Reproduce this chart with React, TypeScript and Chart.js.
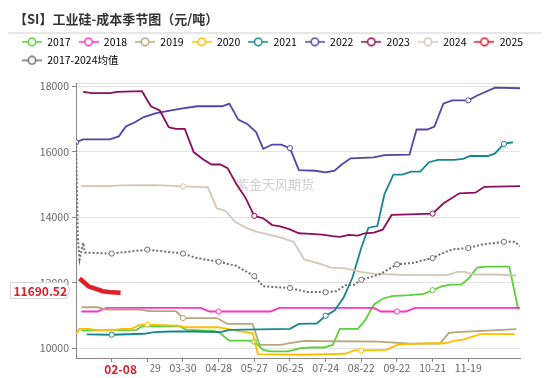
import React, { useEffect, useRef } from 'react';
import { Chart, registerables } from 'chart.js';

Chart.register(...registerables);

const FONT = "'Noto Sans CJK SC', 'Noto Sans', sans-serif";
const RED = '#dd1f26';

const titleText = '【SI】工业硅-成本季节图（元/吨）';
const watermarkText = '紫金天风期货';

// x axis: trading-day index within the year
const xTickDays = [20, 40, 60, 80, 100, 120, 140, 160, 180, 200, 220];
const xTickLabels = ['02-01', '02-29', '03-30', '04-28', '05-27', '06-25', '07-24', '08-22', '09-22', '10-21', '11-19'];
const yTickValues = [10000, 12000, 14000, 16000, 18000, 18100];

const latestDay = 25;
const latestLabel = '02-08';

const seriesNames = ['2017', '2018', '2019', '2020', '2021', '2022', '2023', '2024', '2025', '2017-2024均值'];
const seriesColors = ['#5ad13a', '#ff33c8', '#b9a67a', '#ffbf00', '#14868f', '#5244a8', '#8b0e5e', '#d4c7b8', RED, '#6e6e6e'];

const data2017: [number, number][] = [
  [3, 10540], [34, 10560], [37, 10670], [58, 10670], [62, 10560], [77, 10530], [80, 10490], [86, 10230],
  [96, 10230], [100, 10200], [105, 9950], [109, 9900], [119, 9900], [126, 10000], [132, 10020], [139, 10020],
  [144, 10100], [148, 10590], [158, 10590], [162, 10840], [167, 11330], [172, 11510], [177, 11590], [187, 11620],
  [195, 11660], [200, 11770], [205, 11890], [210, 11940], [216, 11940], [220, 12120], [225, 12460], [230, 12490],
  [243, 12490], [248, 11180],
];
const data2018: [number, number][] = [
  [3, 11120], [12, 11120], [17, 11230], [70, 11230], [75, 11120], [80, 11120], [109, 11120], [114, 11230],
  [167, 11230], [171, 11120], [180, 11120], [185, 11120], [190, 11230], [249, 11230],
];
const data2019: [number, number][] = [
  [3, 11250], [12, 11250], [17, 11180], [36, 11180], [41, 11130], [56, 11130], [60, 10920], [79, 10920],
  [85, 10740], [99, 10740], [103, 10100], [115, 10100], [119, 10150], [128, 10220], [170, 10200], [187, 10140],
  [204, 10140], [209, 10460], [213, 10490], [228, 10530], [247, 10580],
];
const data2020: [number, number][] = [
  [0, 10430], [2, 10590], [7, 10590], [12, 10550], [20, 10550], [26, 10590], [31, 10590], [36, 10720],
  [40, 10720], [57, 10690], [61, 10640], [79, 10640], [85, 10590], [90, 10530], [99, 10460], [102, 9820],
  [126, 9800], [151, 9830], [156, 9930], [160, 9930], [174, 9950], [180, 10100], [188, 10130], [198, 10150],
  [207, 10150], [212, 10220], [217, 10260], [227, 10430], [246, 10430],
];
const data2021: [number, number][] = [
  [6, 10420], [20, 10410], [38, 10440], [44, 10490], [53, 10510], [66, 10510], [81, 10490], [86, 10560],
  [120, 10590], [125, 10740], [131, 10750], [135, 10750], [140, 10990], [145, 11150], [150, 11540], [155, 12150],
  [160, 13070], [164, 13680], [169, 13730], [173, 14710], [178, 15300], [183, 15300], [188, 15390], [193, 15390],
  [198, 15680], [203, 15750], [212, 15750], [217, 15780], [221, 15870], [231, 15870], [235, 15950], [240, 16240],
  [245, 16290],
];
const data2022: [number, number][] = [
  [0, 16290], [4, 16380], [19, 16380], [24, 16470], [28, 16770], [33, 16900], [38, 17060], [45, 17180],
  [58, 17310], [68, 17390], [82, 17390], [86, 17470], [91, 16980], [96, 16850], [101, 16600], [105, 16090],
  [110, 16220], [115, 16220], [120, 16110], [125, 15440], [134, 15420], [140, 15370], [145, 15420], [149, 15610],
  [154, 15800], [167, 15830], [173, 15900], [187, 15910], [191, 16680], [197, 16680], [201, 16770], [206, 17470],
  [211, 17570], [220, 17570], [225, 17720], [235, 17960], [249, 17940],
];
const data2023: [number, number][] = [
  [4, 17830], [9, 17790], [19, 17790], [23, 17830], [37, 17850], [42, 17390], [47, 17260], [52, 16750],
  [56, 16700], [61, 16700], [66, 15990], [71, 15780], [76, 15610], [81, 15610], [85, 15500], [90, 15010],
  [95, 14600], [100, 14040], [105, 13970], [110, 13760], [114, 13730], [120, 13630], [125, 13510], [129, 13500],
  [138, 13470], [144, 13420], [148, 13400], [153, 13460], [158, 13440], [162, 13510], [167, 13530], [172, 13620],
  [177, 14070], [187, 14090], [200, 14110], [206, 14420], [215, 14730], [224, 14750], [229, 14930], [249, 14950],
];
const data2024: [number, number][] = [
  [3, 14950], [19, 14950], [25, 14970], [45, 14980], [60, 14940], [74, 14910], [79, 14270], [84, 14190],
  [89, 13870], [96, 13660], [101, 13560], [109, 13460], [116, 13360], [122, 13250], [128, 12710], [136, 12590],
  [143, 12460], [151, 12440], [160, 12330], [167, 12270], [179, 12250], [185, 12230], [208, 12230], [214, 12330],
  [218, 12330], [223, 12250], [235, 12250], [247, 12220],
];
const data2025: [number, number][] = [
  [2, 12130], [7, 11890], [15, 11740], [20, 11705], [25, 11690.52],
];
const dataAvg: [number, number][] = [
  [0, 16290], [1, 13400], [2, 12710], [4, 13220], [5, 12920], [20, 12890], [40, 13010], [60, 12890],
  [67, 12760], [80, 12640], [90, 12510], [100, 12200], [105, 11890], [120, 11840], [129, 11720], [140, 11710],
  [146, 11740], [151, 11920], [156, 11940], [160, 12090], [170, 12250], [175, 12400], [180, 12560], [190, 12610],
  [194, 12680], [200, 12750], [205, 12890], [211, 13020], [220, 13060], [228, 13170], [240, 13250], [246, 13250],
  [249, 13120],
];

const markers2017 = [100, 200];
const markers2018 = [80, 180];
const markers2019 = [60];
const markers2020 = [40, 160];
const markers2021 = [20, 140, 240];
const markers2022 = [0, 120, 220];
const markers2023 = [100, 200];
const markers2024 = [60];
const markers2025: number[] = [];
const markersAvg = [20, 40, 60, 80, 100, 120, 140, 160, 180, 200, 220, 240];

const seriesData = [data2017, data2018, data2019, data2020, data2021, data2022, data2023, data2024, data2025, dataAvg];
const seriesMarkers = [markers2017, markers2018, markers2019, markers2020, markers2021, markers2022, markers2023, markers2024, markers2025, markersAvg];

function makeIcon(color: string) {
  const c = document.createElement('canvas');
  c.width = 20;
  c.height = 10;
  const g = c.getContext('2d')!;
  g.strokeStyle = color;
  g.lineWidth = 1.5;
  g.beginPath();
  g.moveTo(0, 5);
  g.lineTo(20, 5);
  g.stroke();
  g.beginPath();
  g.arc(10, 5, 3.7, 0, Math.PI * 2);
  g.fillStyle = '#fff';
  g.fill();
  g.stroke();
  return c;
}

const decorPlugin = {
  id: 'decor',
  beforeLayout(chart: any) {
    const lg = chart.legend;
    if (lg && !lg.__patched) {
      const orig = lg.fit.bind(lg);
      lg.fit = function () {
        orig();
        this.height += 7.4;
      };
      lg.__patched = true;
    }
  },
  beforeDatasetsDraw(chart: any) {
    const ctx = chart.ctx;
    ctx.save();
    ctx.font = `13px ${FONT}`;
    ctx.fillStyle = 'rgba(160,160,160,0.5)';
    ctx.textAlign = 'center';
    ctx.textBaseline = 'middle';
    ctx.fillText(watermarkText, 275, 184);
    ctx.restore();
  },
  afterDraw(chart: any) {
    const ctx = chart.ctx;
    const area = chart.chartArea;
    ctx.save();
    // separator under the title
    ctx.strokeStyle = '#cfcfcf';
    ctx.lineWidth = 1.2;
    ctx.beginPath();
    ctx.moveTo(8, 33);
    ctx.lineTo(542, 33);
    ctx.stroke();

    // y axis pointer label
    const latestValue = data2025[data2025.length - 1][1];
    const py = Math.round(chart.scales.y.getPixelForValue(latestValue) - 3) + 0.5;
    const right = area.left - 6;
    const left = 10.5;
    ctx.beginPath();
    ctx.moveTo(left, py - 8);
    ctx.lineTo(right - 4, py - 8);
    ctx.lineTo(right, py);
    ctx.lineTo(right - 4, py + 8);
    ctx.lineTo(left, py + 8);
    ctx.closePath();
    ctx.fillStyle = '#fff';
    ctx.fill();
    ctx.strokeStyle = '#d6d6d6';
    ctx.lineWidth = 1;
    ctx.stroke();
    ctx.fillStyle = RED;
    ctx.font = `bold 12px ${FONT}`;
    ctx.textAlign = 'center';
    ctx.textBaseline = 'middle';
    ctx.fillText(latestValue.toFixed(2), (left + right - 4) / 2 + 2, py + 0.5);

    // x axis pointer label
    const px = chart.scales.x.getPixelForValue(latestDay);
    const by = area.bottom;
    ctx.fillStyle = '#fff';
    ctx.fillRect(px - 28, by + 4.5, 58, 16);
    ctx.fillStyle = RED;
    ctx.fillText(latestLabel, px, by + 11);
    ctx.restore();
  },
};

export default function App() {
  const ref = useRef<HTMLCanvasElement>(null);

  useEffect(() => {
    const icons = seriesColors.map(makeIcon);
    const datasets = seriesNames.map((name, i) => {
      const markers = seriesMarkers[i];
      const isAvg = i === seriesNames.length - 1;
      const isLatest = i === 8;
      return {
        label: name,
        data: seriesData[i].map(([x, y]) => ({ x, y })),
        borderColor: seriesColors[i],
        backgroundColor: '#fff',
        borderWidth: isLatest ? 4.5 : isAvg ? 2 : 1.8,
        borderDash: isAvg ? [2, 2] : [],
        pointRadius: (c: any) => (c.raw && markers.includes(c.raw.x) ? 2.6 : 0),
        pointHoverRadius: 0,
        pointBorderColor: seriesColors[i],
        pointBackgroundColor: '#fff',
        pointBorderWidth: 1,
        tension: 0,
        fill: false,
        order: 10 - i,
      };
    });

    const chart = new Chart(ref.current!, {
      type: 'line',
      data: { datasets } as any,
      options: {
        responsive: false,
        animation: false,
        events: [],
        layout: { padding: { left: 14, right: 0, top: 0, bottom: 0 } },
        plugins: {
          tooltip: { enabled: false },
          title: {
            display: true,
            text: titleText,
            align: 'start',
            color: '#333',
            font: { family: FONT, size: 13, weight: 'bold' },
            padding: { top: 11, bottom: 2 },
          },
          legend: {
            display: true,
            position: 'top',
            align: 'start',
            labels: {
              usePointStyle: true,
              pointStyleWidth: 20,
              padding: 8,
              color: '#555',
              font: { family: FONT, size: 10.5 },
              generateLabels: (ch: any) =>
                ch.data.datasets.map((ds: any, i: number) => ({
                  text: ds.label,
                  pointStyle: icons[i],
                  fillStyle: ds.borderColor,
                  strokeStyle: ds.borderColor,
                  lineWidth: 0,
                  hidden: false,
                  datasetIndex: i,
                })),
            },
          },
        },
        scales: {
          x: {
            type: 'linear',
            min: 0,
            max: 249,
            afterBuildTicks: (s: any) => {
              s.ticks = xTickDays.map((v) => ({ value: v }));
            },
            afterFit: (s: any) => {
              s.height = 20;
            },
            ticks: {
              autoSkip: false,
              maxRotation: 0,
              padding: 0,
              color: '#666',
              font: { family: FONT, size: 10.5 },
              callback: (v: any) => {
                const k = xTickDays.indexOf(Number(v));
                return k >= 0 ? xTickLabels[k] : '';
              },
            },
            grid: { display: true, drawOnChartArea: false, drawTicks: true, tickLength: 4, tickColor: '#888' },
            border: { display: true, color: '#888', width: 1 },
          },
          y: {
            type: 'linear',
            min: 9700,
            max: 18100,
            afterBuildTicks: (s: any) => {
              s.ticks = yTickValues.map((v) => ({ value: v }));
            },
            afterFit: (s: any) => {
              s.width = 62;
            },
            ticks: {
              padding: 3,
              color: '#666',
              font: { family: FONT, size: 10.5 },
              callback: (v: any) => (Number(v) === 18100 ? '' : String(v)),
            },
            grid: {
              color: '#e2e2e2',
              lineWidth: 1,
              tickLength: 4,
              tickColor: (c: any) => (c.tick && c.tick.value === 18100 ? 'rgba(0,0,0,0)' : '#888'),
            },
            border: { display: true, color: '#888', width: 1 },
          },
          yPad: {
            type: 'linear',
            position: 'right',
            display: true,
            afterFit: (s: any) => {
              s.width = 30;
            },
            ticks: { display: false },
            grid: { display: false },
            border: { display: false },
          },
        },
      } as any,
      plugins: [decorPlugin],
    });
    return () => chart.destroy();
  }, []);

  return (
    <div style={{ position: 'fixed', left: 0, top: 0, width: 550, height: 378, background: '#fff' }}>
      <canvas ref={ref} width={550} height={378} style={{ display: 'block' }} />
    </div>
  );
}
